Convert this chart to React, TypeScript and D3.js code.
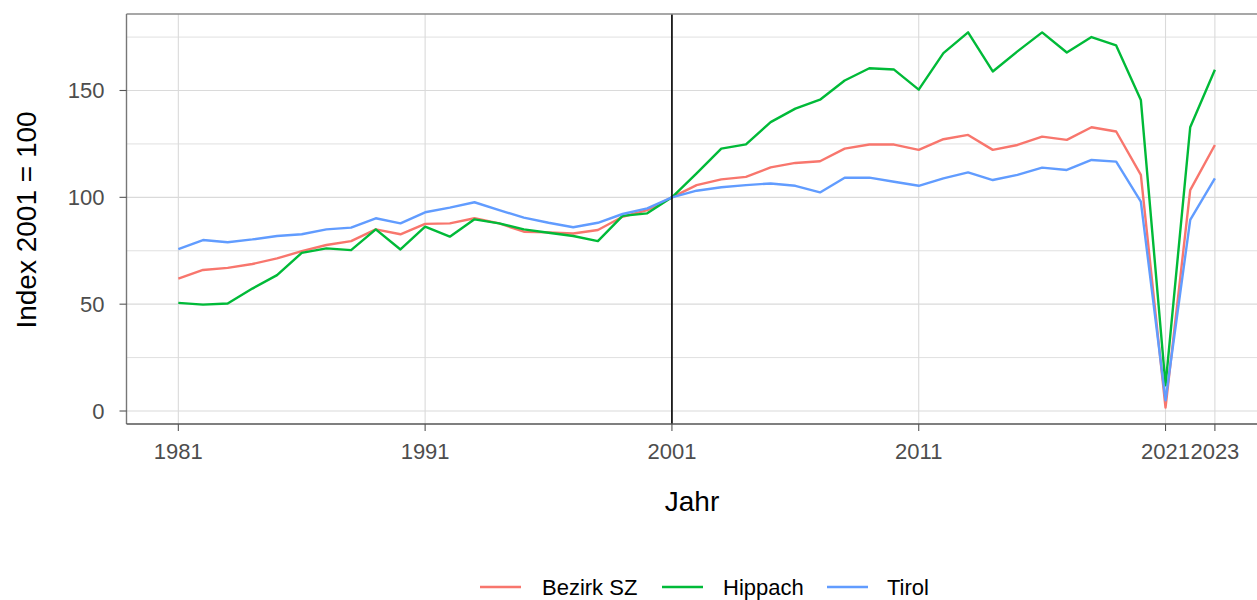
import React from "react";
import * as d3 from "d3";

const years: number[] = d3.range(1981, 2024);

const bezirkSZ: number[] = [
  62, 66, 67, 68.8, 71.4, 74.8, 77.7, 79.5, 85, 82.7,
  87.6, 87.8, 90.2, 87.8, 83.9, 83.6, 83.1, 84.7, 90.9, 94,
  100, 105.7, 108.4, 109.6, 114, 116.1, 116.9, 122.8, 124.7, 124.7,
  122.2, 127.2, 129.2, 122.2, 124.5, 128.4, 126.9, 132.8, 130.8, 110.5,
  1.6, 103.4, 124.5,
];

const hippach: number[] = [
  50.6, 49.8, 50.3, 57.3, 63.6, 74, 76.1, 75.3, 85, 75.6,
  86.3, 81.6, 89.7, 87.8, 85, 83.4, 81.9, 79.5, 91.3, 92.5,
  100, 111.2, 122.8, 124.8, 135.2, 141.5, 145.7, 154.7, 160.4, 159.8,
  150.4, 167.5, 177.2, 158.9, 168.3, 177.2, 167.8, 175, 171.1, 145.6,
  12, 132.8, 159.7,
];

const tirol: number[] = [
  75.8, 80, 79, 80.3, 81.9, 82.7, 85, 85.8, 90.2, 87.8,
  93, 95.2, 97.7, 94, 90.5, 88.1, 86, 88.1, 92.2, 94.8,
  100, 103.1, 104.7, 105.7, 106.5, 105.4, 102.3, 109.2, 109.2, 107.3,
  105.4, 108.9, 111.7, 108.1, 110.5, 113.9, 112.8, 117.5, 116.7, 98,
  5, 89.4, 108.9,
];

const seriesNames: string[] = ["Bezirk SZ", "Hippach", "Tirol"];
const seriesColors: string[] = ["#F8766D", "#00BA38", "#619CFF"];
const seriesValues: number[][] = [bezirkSZ, hippach, tirol];

const xTicks: number[] = [1981, 1991, 2001, 2011, 2021, 2023];
const yTicks: number[] = [0, 50, 100, 150];
const yMinor: number[] = [25, 75, 125, 175];
const refYear = 2001;

const W = 1257;
const H = 600;
const FONT = "'Liberation Sans', Arial, sans-serif";

export default function App() {
  const left = 126.5;
  const top = 14;
  const bottom = 424;
  const x = d3.scaleLinear().domain([1978.9, 2025.1]).range([left, left + 46.2 * 24.68]);
  const y = d3.scaleLinear().domain([-6.08, 185.8]).range([bottom, top]);
  const right = x(2025.1);

  const line = d3
    .line<[number, number]>()
    .x((d) => x(d[0]))
    .y((d) => y(d[1]));

  const legendKeys = [480, 662, 827];
  const legendTexts = [542, 723, 887];

  return (
    <svg
      width={W}
      height={H}
      style={{ display: "block", position: "absolute", left: 0, top: 0 }}
      fontFamily={FONT}
    >
      <rect x={0} y={0} width={W} height={H} fill="#fff" />
      {/* gridlines */}
      {yMinor.map((v) => (
        <line key={"ym" + v} x1={left} x2={right} y1={y(v)} y2={y(v)} stroke="#e0e0e0" strokeWidth={1} />
      ))}
      {yTicks.map((v) => (
        <line key={"yg" + v} x1={left} x2={right} y1={y(v)} y2={y(v)} stroke="#dadada" strokeWidth={1.1} />
      ))}
      {xTicks.map((v) => (
        <line key={"xg" + v} x1={x(v)} x2={x(v)} y1={top} y2={bottom} stroke="#dadada" strokeWidth={1.1} />
      ))}
      {/* series */}
      {seriesValues.map((vals, i) => (
        <path
          key={seriesNames[i]}
          d={line(years.map((yr, j) => [yr, vals[j]] as [number, number])) || ""}
          fill="none"
          stroke={seriesColors[i]}
          strokeWidth={2.4}
          strokeLinejoin="round"
        />
      ))}
      {/* reference line */}
      <line x1={x(refYear)} x2={x(refYear)} y1={top} y2={bottom} stroke="#000" strokeWidth={1.6} />
      {/* panel border */}
      <line x1={left} x2={right} y1={top} y2={top} stroke="#8a8a8a" strokeWidth={1.4} />
      <line x1={left} x2={left} y1={top} y2={bottom} stroke="#777" strokeWidth={1.4} />
      <line x1={left} x2={right} y1={bottom} y2={bottom} stroke="#555" strokeWidth={1.4} />
      {/* y ticks */}
      {yTicks.map((v) => (
        <g key={"yt" + v}>
          <line x1={left - 7} x2={left} y1={y(v)} y2={y(v)} stroke="#555" strokeWidth={1.1} />
          <text x={left - 22} y={y(v)} dy="0.36em" textAnchor="end" fontSize={22} fill="#4d4d4d">
            {v}
          </text>
        </g>
      ))}
      {/* x ticks */}
      {xTicks.map((v) => (
        <g key={"xt" + v}>
          <line x1={x(v)} x2={x(v)} y1={bottom} y2={bottom + 7} stroke="#555" strokeWidth={1.1} />
          <text x={x(v)} y={bottom + 35} textAnchor="middle" fontSize={22} fill="#4d4d4d">
            {v}
          </text>
        </g>
      ))}
      {/* axis titles */}
      <text x={692} y={511} textAnchor="middle" fontSize={28} fill="#000">
        Jahr
      </text>
      <text
        transform={`translate(36, ${220}) rotate(-90)`}
        textAnchor="middle"
        fontSize={28}
        fill="#000"
      >
        Index 2001 = 100
      </text>
      {/* legend */}
      {seriesNames.map((n, i) => (
        <g key={"lg" + n}>
          <line
            x1={legendKeys[i]}
            x2={legendKeys[i] + 41}
            y1={587}
            y2={587}
            stroke={seriesColors[i]}
            strokeWidth={2.4}
          />
          <text x={legendTexts[i]} y={587} dy="0.36em" fontSize={22} fill="#000">
            {n}
          </text>
        </g>
      ))}
    </svg>
  );
}
